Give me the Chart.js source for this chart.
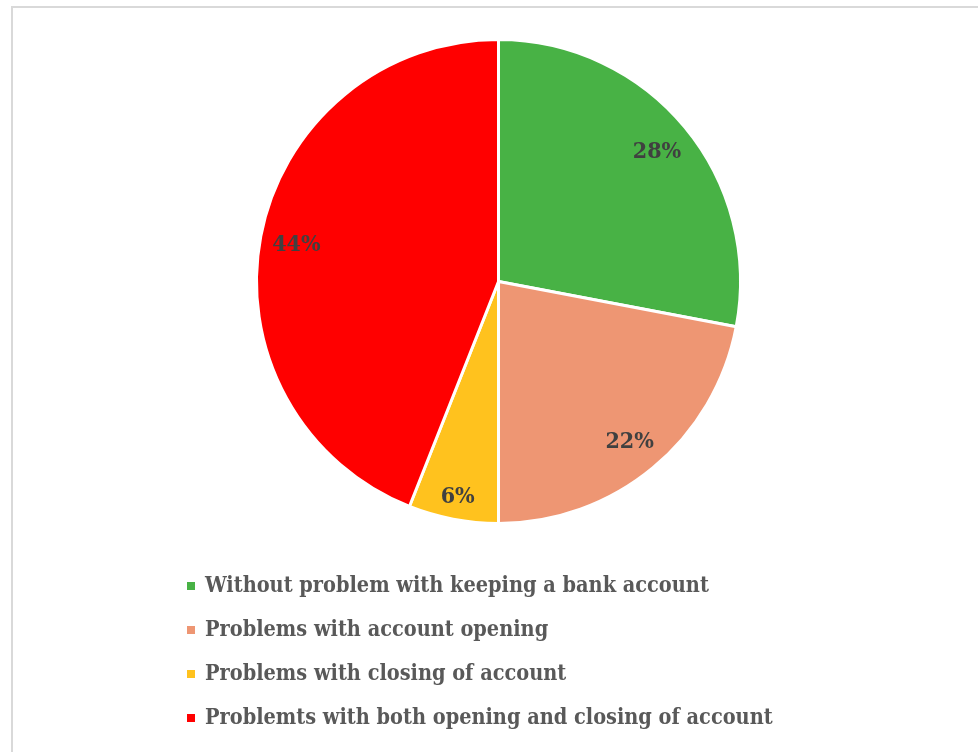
<!DOCTYPE html>
<html>
<head>
<meta charset="utf-8">
<script src="https://cdn.jsdelivr.net/npm/chart.js@4"></script>
<style>
  html, body { margin: 0; padding: 0; background: #fff; }
  #wrap { position: relative; width: 978px; height: 752px; overflow: hidden; }
  #frame { position: absolute; left: 11px; top: 6px; width: 1000px; height: 800px; border: 2px solid #d9d9d9; box-sizing: border-box; }
  #chart { position: absolute; left: 0; top: 0; }
</style>
</head>
<body>
<div id="wrap">
  <div id="frame"></div>
  <canvas id="chart" width="978" height="752"></canvas>
</div>
<script>
const categorias = [
  'Without problem with keeping a bank account',
  'Problems with account opening',
  'Problems with closing of account',
  'Problemts with both opening and closing of account'
];
const percentuais = [28, 22, 6, 44];
const cores = ['#48b245', '#ee9673', '#ffc21e', '#ff0000'];

const fonteSerif = '"DejaVu Serif Condensed", "DejaVu Serif", serif';

// rótulos de porcentagem dentro de cada fatia
const rotulosPlugin = {
  id: 'rotulos',
  afterDatasetsDraw(chart) {
    const ctx = chart.ctx;
    const meta = chart.getDatasetMeta(0);
    ctx.save();
    ctx.font = 'bold 23px ' + fonteSerif;
    ctx.fillStyle = '#404040';
    ctx.textAlign = 'center';
    ctx.textBaseline = 'middle';
    meta.data.forEach((arc, i) => {
      const p = arc.getProps(['x', 'y', 'startAngle', 'endAngle', 'outerRadius'], true);
      const meio = (p.startAngle + p.endAngle) / 2;
      const r = p.outerRadius * (percentuais[i] < 10 ? 0.9 : 0.85);
      ctx.fillText(percentuais[i] + '%', p.x + Math.cos(meio) * r, p.y + Math.sin(meio) * r + 2);
    });
    ctx.restore();
  }
};

// legenda em lista vertical abaixo da pizza
const legendaPlugin = {
  id: 'legendaLista',
  afterDraw(chart) {
    const ctx = chart.ctx;
    ctx.save();
    ctx.font = 'bold 21.5px ' + fonteSerif;
    ctx.textBaseline = 'middle';
    categorias.forEach((nome, i) => {
      const y = 586 + i * 44;
      ctx.fillStyle = cores[i];
      ctx.fillRect(187, y - 4, 8, 8);
      ctx.fillStyle = '#595959';
      ctx.fillText(nome, 205, y);
    });
    ctx.restore();
  }
};

new Chart(document.getElementById('chart').getContext('2d'), {
  type: 'pie',
  data: {
    labels: categorias,
    datasets: [{
      data: percentuais,
      backgroundColor: cores,
      borderColor: '#ffffff',
      borderWidth: 3,
      hoverOffset: 0,
      offset: 0
    }]
  },
  options: {
    responsive: false,
    animation: false,
    layout: { padding: { left: 255, right: 236, top: 38, bottom: 227 } },
    plugins: {
      legend: { display: false },
      tooltip: { enabled: false }
    }
  },
  plugins: [rotulosPlugin, legendaPlugin]
});
</script>
</body>
</html>
